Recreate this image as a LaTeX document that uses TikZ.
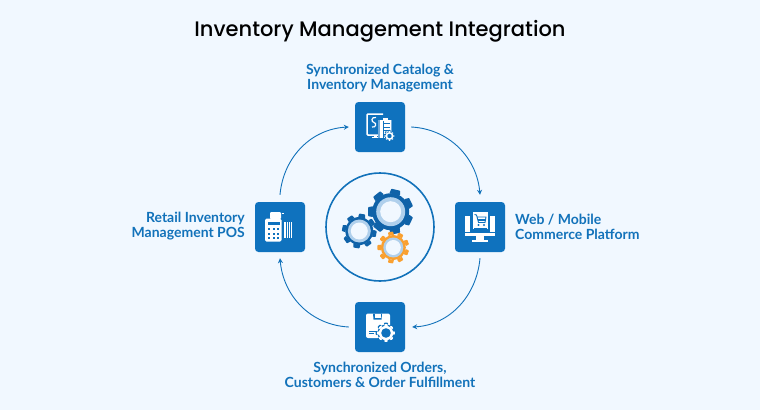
\documentclass[tikz,border=0pt]{standalone}
\usepackage{fontspec}
\setmainfont{Poppins Medium}
\newfontfamily\labelfont{Lato}
\usetikzlibrary{arrows.meta,calc}
\definecolor{bgc}{HTML}{F1F8FF}
\definecolor{boxc}{HTML}{0F72BE}
\definecolor{darkg}{HTML}{0F62A8}
\definecolor{ringc}{HTML}{B0D0EC}
\definecolor{orangeg}{HTML}{F9A030}
\definecolor{txtc}{HTML}{1272BA}
\tikzset{
  x=1pt,y=-1pt,
  iconbox/.style={draw=none,fill=boxc,rounded corners=3.5pt,minimum width=50pt,minimum height=50pt,inner sep=0pt},
  lbl/.style={text=txtc,font=\labelfont\fontsize{14}{14.6}\selectfont\bfseries,inner sep=0pt},
  flow/.style={draw=txtc,line width=0.9pt,-{Stealth[length=5pt,width=5pt]}},
  hub/.style={draw=txtc,line width=1.6pt,circle,minimum size=108pt,inner sep=0pt},
  wh/.style={fill=white,draw=none},
  bl/.style={fill=boxc,draw=none}
}
% #1 x, #2 y, #3 outer r, #4 root r, #5 rot, #6 color, #7 teeth
\newcommand{\gearshape}[7]{%
  \pgfmathsetmacro{\gstep}{360/#7}
  \foreach \ga in {1,...,#7}{
    \pgfmathsetmacro{\gc}{#5+\ga*\gstep}
    \fill[#6,rounded corners=0.6pt] ($(#1,#2)+(\gc-0.33*\gstep:#4 and #4)$) --
      ($(#1,#2)+(\gc-0.22*\gstep:#3 and #3)$) --
      ($(#1,#2)+(\gc+0.22*\gstep:#3 and #3)$) --
      ($(#1,#2)+(\gc+0.33*\gstep:#4 and #4)$) -- cycle;
  }
  \fill[#6] (#1,#2) circle[radius=#4];
}
\begin{document}
\begin{tikzpicture}
\useasboundingbox (0,0) rectangle (760,410);
\fill[bgc] (0,0) rectangle (760,410);

\node[font=\fontsize{21}{26}\selectfont,text=black,inner sep=0pt] (title) at (380,31) {Inventory Management Integration};

\node[iconbox] (cat) at (380,127) {};
\node[iconbox] (web) at (480,227) {};
\node[iconbox] (ord) at (380,327) {};
\node[iconbox] (pos) at (280,227) {};
\node[hub] (hubn) at (380,227) {};

\node[lbl,align=center] (catl) at (380,78) {Synchronized Catalog \&\\Inventory Management};
\node[lbl,align=left,anchor=west] (webl) at (515,227) {Web / Mobile\\Commerce Platform};
\node[lbl,align=center] (ordl) at (380,375) {Synchronized Orders,\\Customers \& Order Fulfillment};
\node[lbl,align=right,anchor=east] (posl) at (245,226) {Retail Inventory\\Management POS};

\draw[flow] ([yshift=7pt]pos.north) to[out=85,in=183] ([xshift=-6pt]cat.west);
\draw[flow] ([xshift=6pt]cat.east) to[out=-3,in=95] ([yshift=7pt]web.north);
\draw[flow] ([yshift=-6pt]web.south) to[out=-95,in=3] ([xshift=7pt]ord.east);
\draw[flow] ([xshift=-6pt]ord.west) to[out=177,in=-85] ([yshift=-6pt]pos.south);

% hub gears
\gearshape{390.7}{211.7}{23}{18.5}{-77}{darkg}{7}
\fill[ringc] (390.7,211.7) circle[radius=14.5];
\fill[bgc] (390.7,211.7) circle[radius=10.5];
\gearshape{359.3}{231}{17.5}{14}{10}{darkg}{8}
\fill[ringc] (359.3,231) circle[radius=11.5];
\fill[bgc] (359.3,231) circle[radius=8.5];
\gearshape{393.3}{247.5}{16}{12.5}{20}{orangeg}{9}
\fill[ringc] (393.3,247.5) circle[radius=10];
\fill[bgc] (393.3,247.5) circle[radius=7.5];

% catalog icon
\draw[white,line width=1.5pt,rounded corners=1pt] (383,114) -- (367,114) -- (367,135) -- (392,135);
\fill[wh] (371.5,136.5) rectangle (379,138);
\fill[wh] (374,135) rectangle (376.5,137);
\draw[white,line width=1.2pt] (376,117.5) .. controls (371,116.5) and (371,122) .. (374,122.5) .. controls (377,123) and (376,128) .. (372,127);
\fill[ringc!60!boxc] (378,120) rectangle (392,138);
\fill[wh] (379.5,119.5) rectangle (390.5,137.5);
\fill[wh] (382.5,117.5) rectangle (387.5,120.5);
\foreach \yy in {123,126.5,130,133.5}{\fill[bl] (383,\yy) rectangle (390,\yy+1);}
\draw[draw=boxc,line width=0.7pt] (383,121) -- (383,137.5);
\gearshape{389.5}{136}{6.2}{5}{0}{boxc}{8}
\gearshape{389.5}{136}{5}{4}{0}{white}{8}
\fill[boxc] (389.5,136) circle[radius=2.2];

% POS icon
\fill[wh,rounded corners=1pt] (270,212) rectangle (281,219);
\fill[wh] (282,212.5) rectangle (283.5,214);
\fill[wh,rounded corners=1.5pt] (265,218.5) rectangle (281.5,241.5);
\fill[bl] (267.5,222) rectangle (279.5,225);
\foreach \xa in {268,272.5,277}{\foreach \ya in {228,232.5,237}{\fill[bl] (\xa,\ya) rectangle (\xa+2.2,\ya+2.2);}}
\fill[wh] (283.5,222) rectangle (292,238);
\foreach \xa in {285.5,288,290.3}{\fill[bl] (\xa,222) rectangle (\xa+0.6,238);}

% web icon
\fill[wh] (465,216) rectangle (470,232);
\fill[wh] (490,216) rectangle (495,232);
\fill[wh] (465,232.5) rectangle (495,236);
\fill[wh] (473,212) rectangle (488,229);
\fill[wh] (476,236) rectangle (484,240);
\fill[wh] (472,240) rectangle (488,242);
\draw[boxc,line width=0.9pt,line join=round] (474.5,214.5) -- (476.5,215) -- (478.5,222.5) -- (485,222.5) -- (486,217) -- (477.3,217);
\fill[bl] (478.5,225) circle[radius=1.1];
\fill[bl] (484,225) circle[radius=1.1];
\fill[bl] (478,218.5) rectangle (485.5,221);
\fill[bl] (473.5,227.5) rectangle (487,228.2);

% order icon
\fill[wh,rounded corners=2pt] (366,313.5) rectangle (390,338);
\fill[bl] (373,313.5) -- (373.5,319.5) -- (381.5,319.5) -- (382,313.5) -- cycle;
\fill[wh] (374.5,313.5) rectangle (380.5,318.3);
\fill[bl] (368.5,330.5) rectangle (377,331.3);
\fill[bl] (368.5,333) rectangle (374,333.8);
\gearshape{386}{333}{10.5}{8.5}{0}{boxc}{8}
\gearshape{386}{333}{9}{7.2}{0}{white}{8}
\fill[boxc] (386,333) circle[radius=4.8];
\end{tikzpicture}
\end{document}
